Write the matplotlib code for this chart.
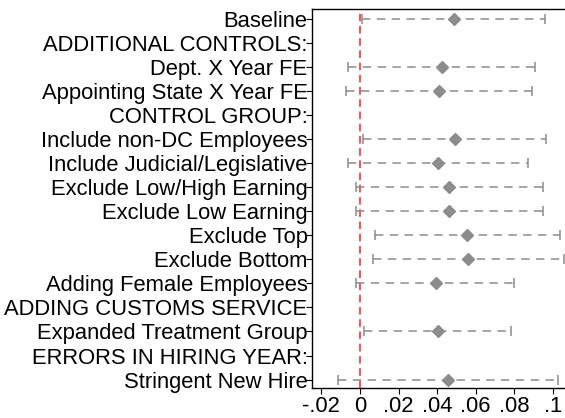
import matplotlib
matplotlib.use("Agg")
import matplotlib.pyplot as plt

labels = ["Baseline", "ADDITIONAL CONTROLS:", "Dept. X Year FE", "Appointing State X Year FE",
          "CONTROL GROUP:", "Include non-DC Employees", "Include Judicial/Legislative",
          "Exclude Low/High Earning", "Exclude Low Earning", "Exclude Top", "Exclude Bottom",
          "Adding Female Employees", "ADDING CUSTOMS SERVICE", "Expanded Treatment Group",
          "ERRORS IN HIRING YEAR:", "Stringent New Hire"]
# estimates (None = header row)
coef = [0.049, None, 0.0424, 0.0408, None, 0.0494, 0.0402, 0.0461, 0.0460, 0.0557, 0.0562,
        0.0392, None, 0.0402, None, 0.0457]
lo = [0.0012, None, -0.0062, -0.0071, None, 0.0018, -0.0064, -0.0021, -0.0023, 0.0080, 0.0067,
      -0.0021, None, 0.0019, None, -0.0112]
hi = [0.0960, None, 0.0908, 0.0892, None, 0.0963, 0.0869, 0.0947, 0.0947, 0.1039, 0.1055,
      0.0800, None, 0.0785, None, 0.1027]
xticks = [-0.02, 0, 0.02, 0.04, 0.06, 0.08, 0.1]
xticklabels = ["-.02", "0", ".02", ".04", ".06", ".08", ".1"]

plt.rcParams['font.family'] = ['Liberation Sans', 'DejaVu Sans']
fig = plt.figure(figsize=(5.65, 4.18), dpi=100)
ax = fig.add_axes([0.5517, 0.0718, 0.46, 0.906])

gray = "#8c8c8c"
ys = list(range(len(labels)))
for y, c, l, h in zip(ys, coef, lo, hi):
    if c is None:
        continue
    ax.plot([l, h], [y, y], color=gray, lw=1.1, ls=(0, (5.5, 4.2)), zorder=2)
    ax.plot([l, h], [y, y], ls='none', marker='|', ms=7, mew=1.1, color=gray, zorder=2)
    ax.plot([c], [y], ls='none', marker='D', ms=6.5, color=gray, mec=gray, zorder=3)

ax.axvline(0, color="#ff2020", lw=1.1, ls=(0, (5, 3)), zorder=1)

ax.set_yticks(ys)
ax.set_yticklabels(labels, fontsize=15.8)
ax.set_xticks(xticks)
ax.set_xticklabels(xticklabels, fontsize=15.8)
ax.set_xlim(-0.025, 0.1097)
ax.set_ylim(len(labels) - 1 + 0.35, -0.39)
ax.tick_params(axis='y', length=4, width=0.8, pad=-1)
ax.tick_params(axis='x', length=4, width=0.8, pad=2)
ax.spines['right'].set_visible(False)
for s in ['left', 'bottom', 'top']:
    ax.spines[s].set_linewidth(1.0)

fig.savefig("out.png", dpi=100)
